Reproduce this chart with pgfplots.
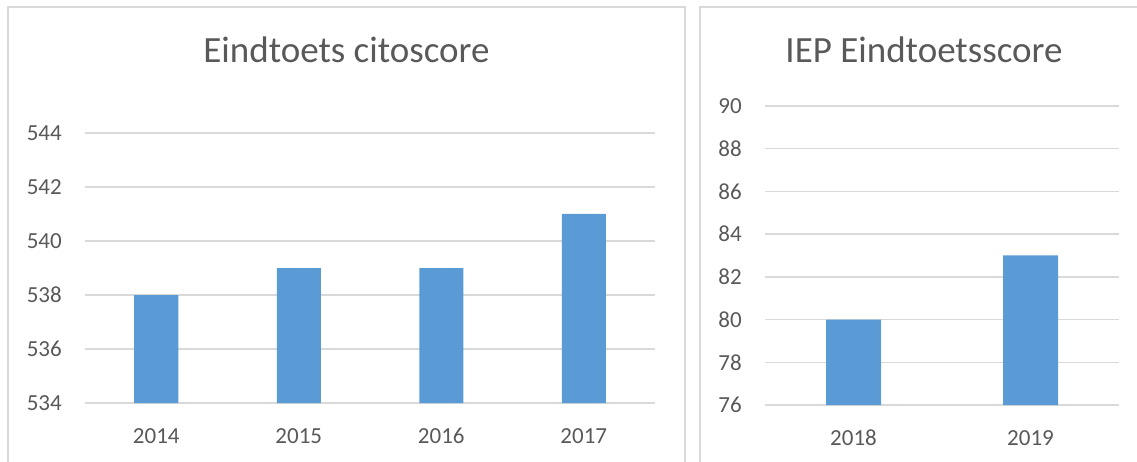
\documentclass[border=0pt]{standalone}
\usepackage{pgfplots}
\pgfplotsset{compat=1.18}
\usepackage{fontspec}
\setmainfont{Carlito}
\definecolor{barblue}{HTML}{5B9BD5}
\definecolor{gridgray}{HTML}{D9D9D9}
\definecolor{txtgray}{HTML}{595959}
\pgfplotsset{
  excelbar/.style={
    scale only axis,
    ybar,
    axis line style={draw=none},
    ymajorgrids,
    major grid style={gridgray, line width=1.3pt},
    major tick length=0pt,
    xtick=data,
    /pgf/number format/assume math mode=true,
    /pgf/number format/1000 sep={},
    ticklabel style={font=\fontsize{23}{23}\selectfont, text=txtgray},
    yticklabel style={anchor=east, inner sep=0pt, xshift=-23pt},
    xticklabel style={anchor=base, inner sep=0pt, yshift=-40pt},
    anchor=south west,
  }
}
\begin{document}
\begin{tikzpicture}[x=1pt,y=1pt]
\useasboundingbox (0,0) rectangle (1137,461);
\draw[gridgray, line width=1.3pt] (8,-5) -- (8,454) -- (685,454) -- (685,-5);
\draw[gridgray, line width=1.3pt] (700,-5) -- (700,454) -- (1150,454);
\node[anchor=base, font=\fontsize{37}{37}\selectfont, text=txtgray] at (346.5,398) {Eindtoets citoscore};
\node[anchor=base, font=\fontsize{37}{37}\selectfont, text=txtgray] at (924,398) {IEP Eindtoetsscore};
\begin{axis}[excelbar,
  at={(85pt,58pt)}, width=570pt, height=270pt,
  bar width=44pt,
  xmin=-0.5, xmax=3.5,
  ymin=534, ymax=544, ytick={534,536,538,540,542,544},
  xticklabels={2014,2015,2016,2017}]
\addplot[fill=barblue, draw=none] coordinates {(0,538) (1,539) (2,539) (3,541)};
\end{axis}
\begin{axis}[excelbar,
  at={(765pt,56pt)}, width=354pt, height=299pt,
  bar width=55pt,
  xmin=-0.5, xmax=1.5,
  ymin=76, ymax=90, ytick={76,78,80,82,84,86,88,90},
  xticklabels={2018,2019}]
\addplot[fill=barblue, draw=none] coordinates {(0,80) (1,83)};
\end{axis}
\end{tikzpicture}
\end{document}
